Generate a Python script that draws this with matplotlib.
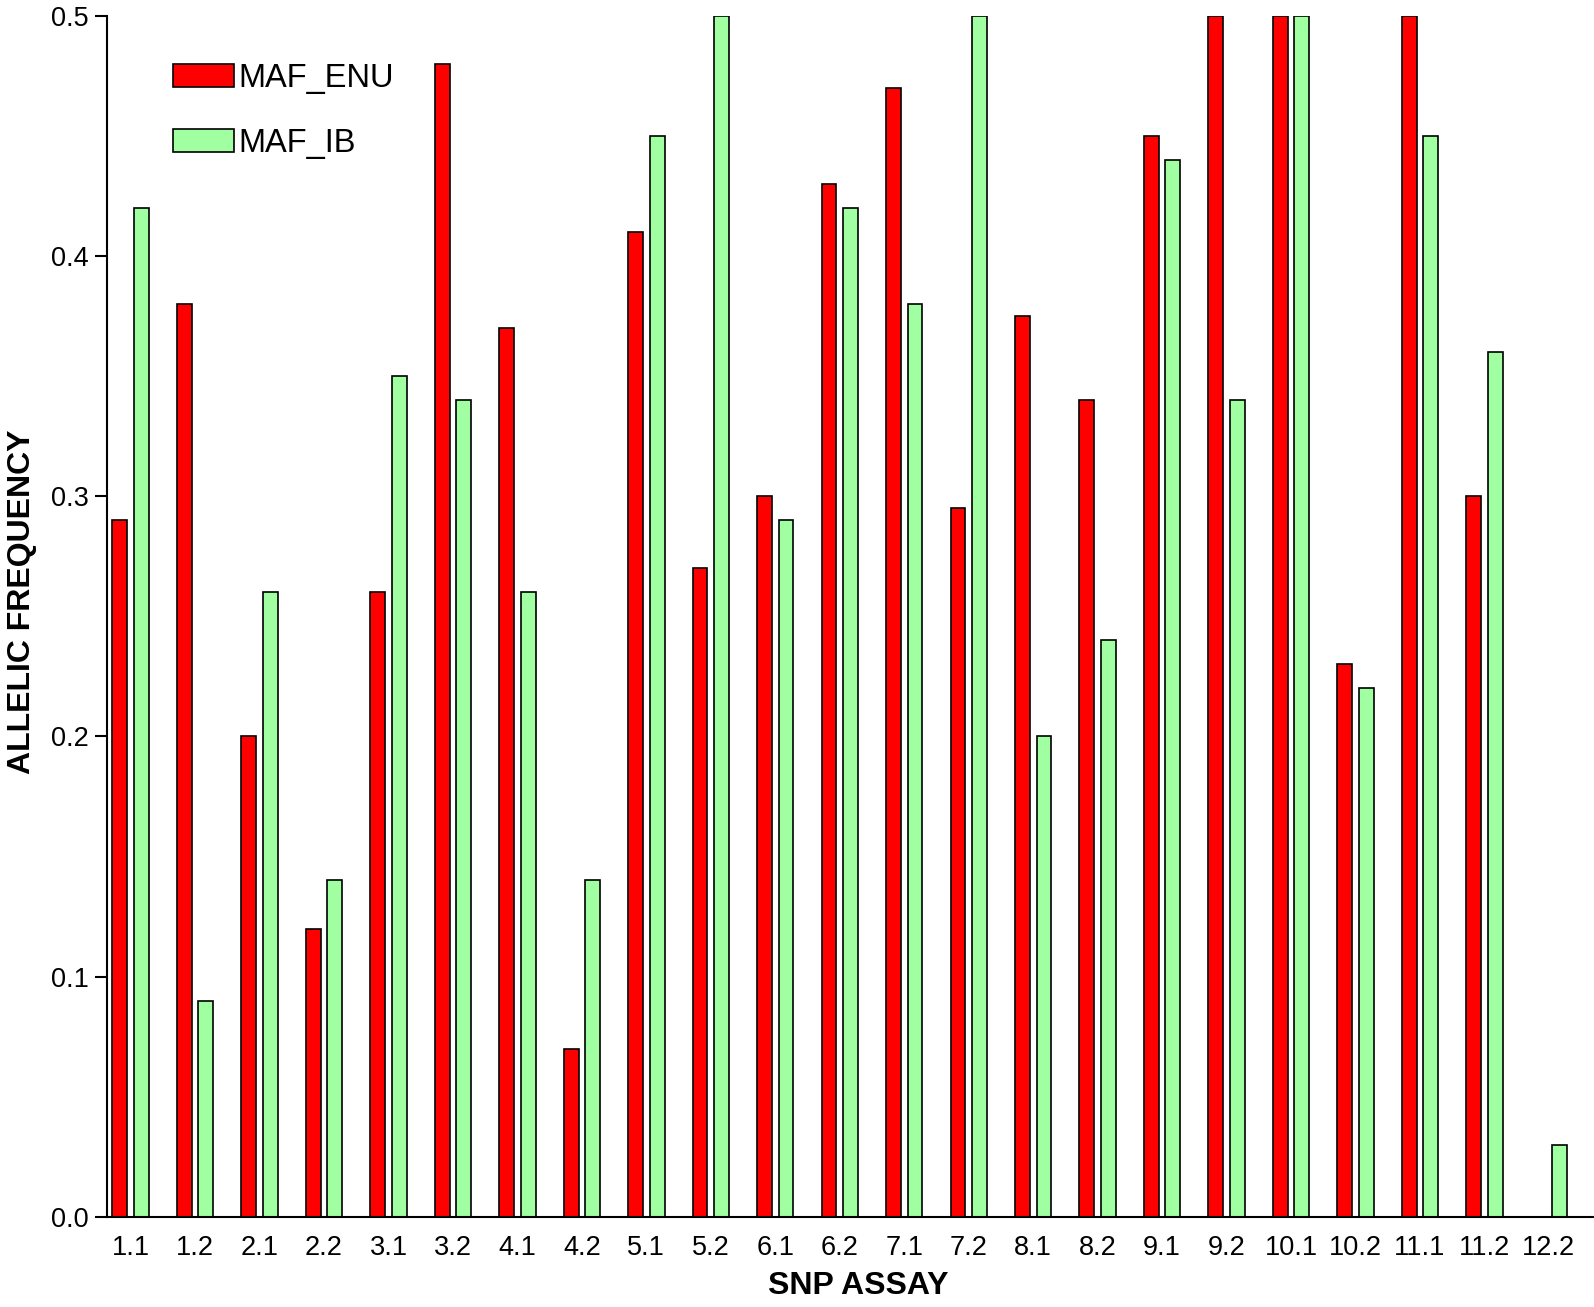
import numpy as np
import matplotlib
matplotlib.use("Agg")
import matplotlib.pyplot as plt

plt.rcParams['font.family'] = ['Liberation Sans', 'DejaVu Sans']

assays = ["1.1", "1.2", "2.1", "2.2", "3.1", "3.2", "4.1", "4.2", "5.1", "5.2",
          "6.1", "6.2", "7.1", "7.2", "8.1", "8.2", "9.1", "9.2", "10.1", "10.2",
          "11.1", "11.2", "12.2"]
maf_enu = [0.29, 0.38, 0.20, 0.12, 0.26, 0.48, 0.37, 0.07, 0.41, 0.27,
           0.30, 0.43, 0.47, 0.295, 0.375, 0.34, 0.45, 0.50, 0.50, 0.23,
           0.50, 0.30, 0.0]
maf_ib = [0.42, 0.09, 0.26, 0.14, 0.35, 0.34, 0.26, 0.14, 0.45, 0.50,
          0.29, 0.42, 0.38, 0.50, 0.20, 0.24, 0.44, 0.34, 0.50, 0.22,
          0.45, 0.36, 0.03]

x = np.arange(len(assays))
w = 0.23
off = 0.167

fig = plt.figure(figsize=(15.94, 13.07), dpi=100)
ax = fig.add_axes([0.067, 0.069, 0.933, 0.919])

ax.bar(x - off, maf_enu, w, color="#ff0000", edgecolor="black", linewidth=1.2, label="MAF_ENU")
ax.bar(x + off, maf_ib, w, color="#a0ffa0", edgecolor="black", linewidth=1.2, label="MAF_IB")

ax.set_xlim(-0.37, 22.7)
ax.set_ylim(0, 0.5)
ax.set_yticks([0.0, 0.1, 0.2, 0.3, 0.4, 0.5])
ax.set_yticklabels(["0.0", "0.1", "0.2", "0.3", "0.4", "0.5"])
ax.set_xticks(x)
ax.set_xticklabels(assays)
ax.tick_params(axis="x", length=0, labelsize=19.5, pad=13)
ax.tick_params(axis="y", length=9, width=1.5, labelsize=19.5, direction="out", pad=4)

for s in ["top", "right"]:
    ax.spines[s].set_visible(False)
ax.spines["left"].set_linewidth(1.5)
ax.spines["bottom"].set_linewidth(1.5)

ax.set_xlabel("SNP ASSAY", fontsize=23, fontweight="bold")
ax.set_ylabel("ALLELIC FREQUENCY", fontsize=23, fontweight="bold")
ax.xaxis.set_label_coords(0.505, -0.0455)
ax.yaxis.set_label_coords(-0.047, 0.512)

ax.legend(loc="upper left", bbox_to_anchor=(0.025, 0.985), frameon=False, fontsize=23.5,
          handlelength=1.85, handleheight=0.7, handletextpad=0.15, labelspacing=1.05)

fig.savefig("out.png", dpi=100)
